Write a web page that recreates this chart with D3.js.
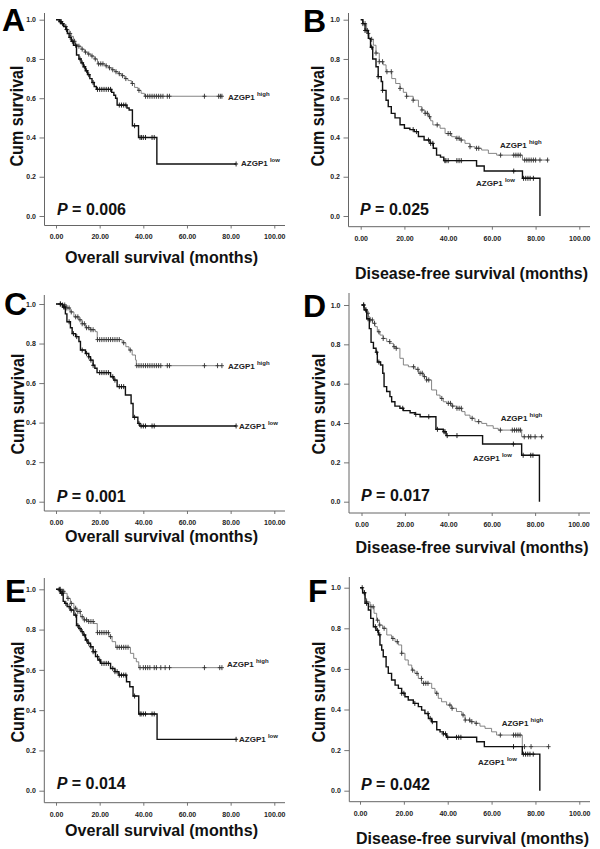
<!DOCTYPE html>
<html><head><meta charset="utf-8">
<script src="https://cdn.jsdelivr.net/npm/d3@7/dist/d3.min.js"></script>
<style>html,body{margin:0;padding:0;background:#fff;}svg{display:block;font-family:"Liberation Sans",Arial,sans-serif;}</style>
</head><body>
<script>
// ---------- data ----------
const monthTicks = [0, 20, 40, 60, 80, 100];
const monthLabels = ["0.00", "20.00", "40.00", "60.00", "80.00", "100.00"];
const survTicks = [0, 0.2, 0.4, 0.6, 0.8, 1.0];
const survLabels = ["0.0", "0.2", "0.4", "0.6", "0.8", "1.0"];
const panelLetters = ["A", "B", "C", "D", "E", "F"];
const xTitles = ["Overall survival (months)", "Disease-free survival (months)",
  "Overall survival (months)", "Disease-free survival (months)",
  "Overall survival (months)", "Disease-free survival (months)"];
const yTitle = "Cum survival";
const pValues = ["0.006", "0.025", "0.001", "0.017", "0.014", "0.042"];
const groupNames = ["high", "low"];

// Kaplan-Meier steps: [time, survival after drop]
const aLowSteps = [[0,1],[1.5,0.99],[2.5,0.98],[3.5,0.965],[4.5,0.95],[5.2,0.93],[6,0.91],[7,0.89],[8,0.87],[9.4,0.82],[10.5,0.80],[11.5,0.78],[12.5,0.76],[13.5,0.74],[14.5,0.72],[15.5,0.70],[16.5,0.68],[17.5,0.66],[18.5,0.645],[25.5,0.63],[26.5,0.615],[27.3,0.60],[28,0.565],[32.5,0.55],[33.5,0.54],[35,0.46],[37.8,0.40],[46.2,0.265]];
const aLowEnd = 82.5;
const aLowCensor = [2,3,4.8,6.5,7.5,9,11,12,13,14,15,17,19,20,21,22,23,24,25,29,30,31,32,36,38.5,39.2,40,41,44,45,82.5];
const aHighSteps = [[0,1],[1.5,0.99],[3,0.98],[4,0.965],[5,0.95],[6,0.93],[7,0.915],[8,0.89],[9,0.875],[10,0.865],[11.5,0.85],[13,0.835],[14.5,0.825],[16,0.815],[17.5,0.80],[19,0.775],[22.5,0.765],[24,0.755],[25.5,0.745],[27,0.735],[28.5,0.725],[30,0.715],[31.5,0.70],[33,0.69],[34.5,0.675],[36,0.655],[37.5,0.64],[39,0.625],[40.5,0.61]];
const aHighEnd = 76;
const aHighCensor = [2,2.5,4.5,6.5,8.5,10.5,12,13.5,15,16.5,18,19.5,20.5,21.5,23,24.5,26,27.5,29,30.5,32,35,38,41,42,43,44,45,46,47,48,49,51,52,68,74.5,75.3,76];

const bLowSteps = [[0,1],[1,0.98],[2,0.945],[3.5,0.905],[4.5,0.86],[5.5,0.80],[7,0.76],[8,0.71],[9.4,0.685],[10,0.64],[11.6,0.59],[12.6,0.557],[14,0.523],[15.7,0.50],[18,0.465],[20,0.447],[22.5,0.44],[24.5,0.43],[26.4,0.405],[29,0.387],[31.7,0.37],[33.2,0.345],[34.7,0.31],[36.5,0.30],[38,0.282],[53,0.255],[56.5,0.229],[74,0.192],[82,0]];
const bLowEnd = 82;
const bLowCensor = [1,2,3,5,8,10,24,25.5,31,32,33,38.5,39,40,44,45,46,70,74.5,75.5,76.5,77.5,79];
const bHighSteps = [[0,1],[1,0.98],[2.7,0.93],[3.9,0.90],[5.8,0.87],[7,0.83],[8.5,0.786],[10.3,0.77],[11.6,0.735],[14.2,0.70],[16,0.675],[18,0.65],[19.5,0.63],[21,0.61],[24,0.59],[26.4,0.557],[28,0.54],[29.4,0.523],[31,0.506],[32,0.485],[33,0.464],[36.3,0.447],[38.6,0.42],[41.6,0.404],[43.5,0.396],[45.4,0.387],[47.7,0.37],[50,0.353],[52.3,0.345],[55.3,0.336],[58.4,0.319],[62.2,0.31],[74,0.285]];
const bHighEnd = 85.8;
const bHighCensor = [2,3.5,5,7,8.5,10,12,14,18,21,24,28,29.5,30.5,31.5,35,40,41,44,45,46,50,53,54,64,70,71,72,73,75,76,77,78,79,80,82,85.5];

const cLowSteps = [[0,1],[3,0.985],[4.3,0.95],[5,0.91],[6.6,0.88],[7.4,0.85],[9,0.835],[10.5,0.81],[11.2,0.767],[13.5,0.75],[15,0.733],[15.8,0.716],[17,0.69],[17.8,0.675],[18.8,0.653],[25,0.632],[26.5,0.615],[28,0.582],[31.8,0.54],[34.4,0.497],[35.3,0.427],[37.5,0.396],[38.4,0.383]];
const cLowEnd = 82.5;
const cLowCensor = [2,3.5,4,6,8,9.5,12,14,15,16,17,20,21,22,23,24,26,27,29,30,31,36,38,39,40,41,44,45,82.5];
const cHighSteps = [[0,1],[3,0.995],[5,0.98],[6.5,0.96],[8.2,0.935],[10.5,0.92],[12,0.90],[13.5,0.88],[15.8,0.87],[18,0.86],[18.9,0.82],[30.3,0.804],[32,0.784],[33.4,0.767],[34.9,0.742],[36.4,0.717],[36.8,0.688]];
const cHighEnd = 76;
const cHighCensor = [2,3,4,5,6,7,9,10,11,12,13,14,15,16,17,19,20,21,22,23,24,25,26,27,28,29,31,34,37,38,39,40,41,42,43,44,45,46,47,48,51,52,68,74,76];

const dLowSteps = [[0,1],[1.2,0.975],[2.4,0.93],[3.6,0.88],[4.4,0.81],[5.5,0.78],[6.7,0.76],[7.3,0.71],[8.8,0.695],[9.8,0.653],[10.4,0.585],[11.6,0.56],[13.1,0.534],[13.9,0.508],[15.4,0.486],[17.7,0.475],[19.3,0.463],[22.4,0.452],[24.7,0.444],[27,0.432],[34.3,0.368],[37.7,0.356],[39,0.336],[55.8,0.293],[73.8,0.236],[82,0]];
const dLowEnd = 82;
const dLowCensor = [1,2,3,7,8,19,25,31,35,38,38.5,39.5,44,70,74.5,78,79];
const dHighSteps = [[0,1],[1.2,0.975],[2.4,0.958],[3.2,0.94],[3.9,0.924],[5.1,0.907],[6.2,0.89],[7.3,0.864],[8.5,0.847],[10,0.83],[11.6,0.814],[13.1,0.805],[14.7,0.788],[16,0.78],[17.7,0.729],[19.3,0.695],[21.6,0.686],[24.7,0.673],[26.2,0.653],[28.5,0.636],[30,0.619],[32.3,0.568],[34.6,0.542],[36.2,0.525],[37.7,0.508],[39.2,0.50],[41.6,0.486],[43.8,0.475],[46.2,0.458],[47.7,0.44],[50,0.424],[52.3,0.407],[55.4,0.398],[57.7,0.386],[60.7,0.373],[63,0.364],[73.8,0.33]];
const dHighEnd = 83.8;
const dHighCensor = [1,2,3,4,5,6,8,10,13,15,16,24,26,27,28,29,30,31,37,40,41,42,44,45,46,51,54,64,69.5,70.5,71.5,72.5,73.3,75,77,78,80,83];

const eLowSteps = [[0,1],[1.3,0.997],[2,0.98],[3.3,0.94],[4,0.93],[5.1,0.914],[6.5,0.897],[8.2,0.872],[9.4,0.82],[10.5,0.805],[11.5,0.79],[12.4,0.773],[13.5,0.748],[14.6,0.732],[15.8,0.715],[17,0.69],[18.1,0.666],[19.2,0.649],[20.4,0.632],[25,0.607],[27,0.591],[28.8,0.574],[32.3,0.541],[33.8,0.516],[35.3,0.47],[37.9,0.381],[46.3,0.255]];
const eLowEnd = 82.7;
const eLowCensor = [1.5,2.5,3,4.5,6,7,9,10,11,12,13,14,15,16,17,18,19,20,21,22,23,24,26,27,28,29,30,31,32,36,38.5,39,40,41,44,45,82.5];
const eHighSteps = [[0,1],[2.5,0.99],[4,0.98],[5.1,0.955],[6.6,0.93],[8.2,0.906],[9.4,0.89],[11.2,0.864],[12.7,0.848],[15,0.84],[17.3,0.83],[18.9,0.785],[24.2,0.765],[25.7,0.74],[27.3,0.712],[34.1,0.682],[35.6,0.657],[36.8,0.64],[37.9,0.611]];
const eHighEnd = 76.1;
const eHighCensor = [1.5,2,3,3.5,5.5,7,9,10,11,12,13,14,15,16,17,19,20,21,22,23,24,25,28,29,30,31,32,33,38.5,40,41,42,43,45,46,48,50,52,68,75,76];

const fLowSteps = [[0,1],[1.2,0.975],[2.3,0.923],[3.8,0.89],[4.9,0.849],[6.1,0.808],[7.3,0.79],[8.4,0.768],[9.1,0.718],[9.9,0.693],[10.6,0.66],[11.9,0.61],[12.9,0.578],[14.4,0.545],[16,0.52],[17.5,0.504],[19,0.48],[20.5,0.463],[22,0.447],[24.3,0.43],[26.6,0.414],[28.1,0.397],[29.6,0.38],[31.2,0.356],[32.7,0.34],[35,0.30],[36.5,0.29],[38,0.28],[39.5,0.263],[53.2,0.241],[56.7,0.217],[74,0.18],[82,0]];
const fLowEnd = 82;
const fLowCensor = [1,2,3,7,8,9,19,20,25,31,32,33,38,39,40,44,45,46,70,74.5,75.5,76.5,77.5,79];
const fHighSteps = [[0,1],[1.2,0.975],[2.3,0.947],[3,0.93],[4.6,0.906],[6.4,0.874],[7.6,0.84],[8.8,0.816],[10.3,0.80],[12.2,0.767],[14.4,0.75],[16,0.734],[17.5,0.718],[19,0.677],[20.5,0.644],[22,0.619],[23.6,0.594],[25,0.578],[26.6,0.553],[28.1,0.529],[32.7,0.504],[34.2,0.48],[35.7,0.455],[37.2,0.438],[39.5,0.422],[41.8,0.406],[44,0.39],[46.4,0.373],[47.9,0.348],[50.2,0.34],[52.4,0.332],[54.7,0.318],[57,0.307],[60,0.29],[62.3,0.274],[74,0.217]];
const fHighEnd = 86;
const fHighCensor = [2,3,5,6,8,9,11,15,17,19,24,26,28,29,30,31,35,41,42,47,48,50,51,53,64,70,71,72,73,75,78,86];

const curves = [
  {high:[aHighSteps,aHighEnd,aHighCensor], low:[aLowSteps,aLowEnd,aLowCensor]},
  {high:[bHighSteps,bHighEnd,bHighCensor], low:[bLowSteps,bLowEnd,bLowCensor]},
  {high:[cHighSteps,cHighEnd,cHighCensor], low:[cLowSteps,cLowEnd,cLowCensor]},
  {high:[dHighSteps,dHighEnd,dHighCensor], low:[dLowSteps,dLowEnd,dLowCensor]},
  {high:[eHighSteps,eHighEnd,eHighCensor], low:[eLowSteps,eLowEnd,eLowCensor]},
  {high:[fHighSteps,fHighEnd,fHighCensor], low:[fLowSteps,fLowEnd,fLowCensor]}
];

// ---------- layout (pixels) ----------
const layout = [
 {ax:44.5, y1:19.7, y0:216, xa:225.5, x0:56, x100:274.3, top:13, right:285, letter:[2,31], cum:[16.5,116], title:[161.5,263], tw:193, p:[57,215], hi:[228,99.5], lo:[241,165.5]},
 {ax:348.5, y1:19.7, y0:216, xa:226.7, x0:360.7, x100:579.3, top:13, right:590, letter:[303,31.5], cum:[317.5,116], title:[471.5,279], tw:233, p:[360,215], hi:[500,148], lo:[476,186]},
 {ax:44.3, y1:304, y0:501.7, xa:511, x0:56, x100:274.3, top:295, right:285, letter:[4,315], cum:[18,404], title:[161.5,542], tw:193, p:[56.7,501.7], hi:[228,369], lo:[239,429]},
 {ax:349, y1:305, y0:501.7, xa:513, x0:361.5, x100:578.5, top:293, right:590, letter:[303,316.5], cum:[319,404], title:[472,553], tw:233, p:[361,500.7], hi:[500.7,421], lo:[473,461]},
 {ax:44.3, y1:589.3, y0:790.7, xa:802.7, x0:56, x100:274.3, top:578, right:285, letter:[5,601.7], cum:[17.5,692], title:[161.5,836], tw:193, p:[56.7,789], hi:[227,667], lo:[239,742]},
 {ax:349.3, y1:587.7, y0:790.7, xa:801.7, x0:360, x100:579.3, top:577, right:590, letter:[308,601.7], cum:[319,692], title:[472.5,844], tw:233, p:[361,790], hi:[501.7,726], lo:[478,765]}
];

const svg = d3.select("body").append("svg").attr("width",600).attr("height",849);
svg.append("rect").attr("width",600).attr("height",849).attr("fill","#fff");

function survAt(steps, t){
  let s = 1;
  for (const [ti, si] of steps){ if (ti <= t) s = si; else break; }
  return s;
}

layout.forEach((L, i) => {
  const g = svg.append("g");
  const x = d3.scaleLinear().domain([0,100]).range([L.x0, L.x100]);
  const y = d3.scaleLinear().domain([0,1]).range([L.y0, L.y1]);

  // axes
  const xAxis = d3.axisBottom(x).tickValues(monthTicks).tickSize(3).tickPadding(6)
    .tickFormat((d,j) => monthLabels[j]);
  const gx = g.append("g").attr("transform",`translate(0,${L.xa})`).call(xAxis);
  const yAxis = d3.axisLeft(y).tickValues(survTicks).tickSize(5).tickPadding(3.5)
    .tickFormat((d,j) => survLabels[j]);
  const gy = g.append("g").attr("transform",`translate(${L.ax},0)`).call(yAxis);
  [gx, gy].forEach(a => {
    a.select(".domain").remove();
    a.selectAll(".tick line").attr("stroke","#666").attr("stroke-width",0.9);
    a.selectAll(".tick text").attr("fill","#222").attr("font-size",7).attr("font-weight","bold")
      .attr("font-family",'"Liberation Sans",Arial,sans-serif');
  });
  g.append("line").attr("x1",L.ax).attr("x2",L.right).attr("y1",L.xa).attr("y2",L.xa)
    .attr("stroke","#666").attr("stroke-width",1);
  g.append("line").attr("x1",L.ax).attr("x2",L.ax).attr("y1",L.top).attr("y2",L.xa)
    .attr("stroke","#666").attr("stroke-width",1);

  // curves
  const line = d3.line().x(d => x(d[0])).y(d => y(d[1])).curve(d3.curveStepAfter);
  ["high","low"].forEach(grp => {
    const [steps, end, cens] = curves[i][grp];
    const pts = steps.slice();
    const last = steps[steps.length-1];
    if (end > last[0]) pts.push([end, last[1]]);
    const isLow = grp === "low";
    g.append("path").attr("d", line(pts)).attr("fill","none")
      .attr("stroke", isLow ? "#111" : "#777").attr("stroke-width", isLow ? 1.4 : 0.9);
    cens.forEach(t => {
      const cx = x(t), cy = y(survAt(steps, t));
      const col = isLow ? "#111" : "#333";
      g.append("line").attr("x1",cx).attr("x2",cx).attr("y1",cy-2.5).attr("y2",cy+2.5)
        .attr("stroke",col).attr("stroke-width",0.9);
      g.append("line").attr("x1",cx-2).attr("x2",cx+2).attr("y1",cy).attr("y2",cy)
        .attr("stroke",col).attr("stroke-width",0.9);
    });
  });

  // group labels
  [["hi",groupNames[0]],["lo",groupNames[1]]].forEach(([k,name]) => {
    const t = g.append("text").attr("x",L[k][0]).attr("y",L[k][1])
      .attr("font-size",8).attr("font-weight","bold").attr("fill","#222");
    t.append("tspan").text("AZGP1 ");
    t.append("tspan").attr("dy",-4).attr("font-size",6).text(name);
  });

  // P value
  const pt = g.append("text").attr("x",L.p[0]).attr("y",L.p[1])
    .attr("font-size",16).attr("font-weight","bold").attr("fill","#111");
  pt.append("tspan").attr("font-style","italic").text("P");
  pt.append("tspan").text(" = " + pValues[i]);

  // panel letter
  g.append("text").attr("x",L.letter[0]).attr("y",L.letter[1])
    .attr("font-size",32).attr("font-weight","bold").attr("fill","#000").text(panelLetters[i]);

  // axis titles
  g.append("text").attr("x",L.title[0]).attr("y",L.title[1]).attr("text-anchor","middle")
    .attr("font-size",16.5).attr("font-weight","bold").attr("fill","#111")
    .attr("textLength",L.tw).attr("lengthAdjust","spacingAndGlyphs").text(xTitles[i]);
  g.append("text").attr("transform",`translate(${L.cum[0]+6.2},${L.cum[1]}) rotate(-90)`)
    .attr("text-anchor","middle").attr("font-size",17.5).attr("font-weight","bold").attr("fill","#111")
    .attr("textLength",101).attr("lengthAdjust","spacingAndGlyphs").text(yTitle);
});
</script>
</body></html>
